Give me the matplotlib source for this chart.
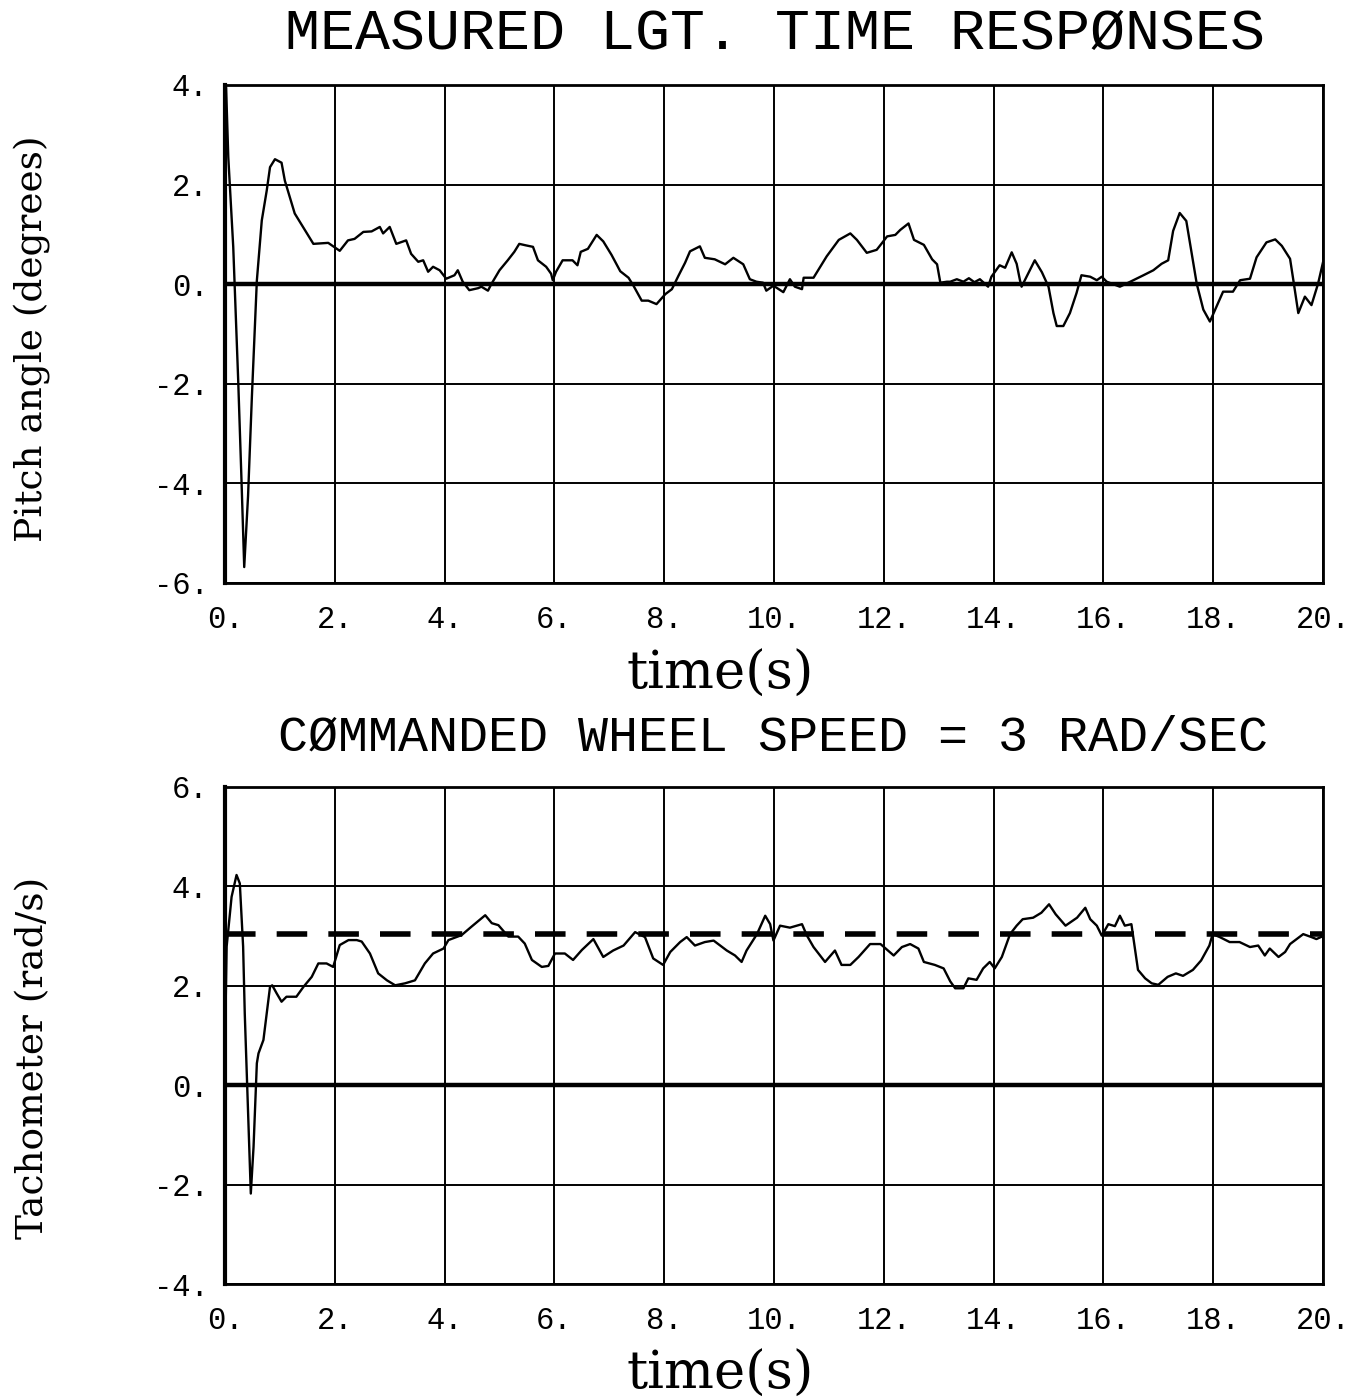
import matplotlib
matplotlib.use("Agg")
import matplotlib.pyplot as plt

# ---------------- data ----------------
pitch_t = [0.0, 0.02, 0.06, 0.15, 0.24, 0.30, 0.35, 0.42, 0.49, 0.58, 0.67, 0.76, 0.82, 0.91, 1.03,
           1.09, 1.27, 1.42, 1.61, 1.88, 2.09, 2.24, 2.36, 2.52, 2.67, 2.82, 2.88, 3.00, 3.12, 3.30,
           3.39, 3.52, 3.61, 3.70, 3.79, 3.91, 4.03, 4.18, 4.24, 4.33, 4.45, 4.61, 4.67, 4.79, 4.85,
           5.00, 5.15, 5.27, 5.36, 5.48, 5.61, 5.70, 5.85, 5.94, 5.97, 6.03, 6.15, 6.33, 6.42, 6.48,
           6.61, 6.77, 6.89, 7.04, 7.20, 7.35, 7.44, 7.59, 7.71, 7.86, 8.02, 8.14, 8.26, 8.38, 8.47,
           8.65, 8.74, 8.92, 9.11, 9.26, 9.44, 9.56, 9.68, 9.80, 9.86, 9.99, 10.17, 10.29, 10.38, 10.51,
           10.54, 10.72, 10.96, 11.18, 11.39, 11.51, 11.69, 11.87, 11.97, 12.06, 12.21, 12.30, 12.45,
           12.55, 12.73, 12.88, 12.97, 13.03, 13.15, 13.21, 13.33, 13.45, 13.55, 13.65, 13.75, 13.90,
           13.96, 14.11, 14.21, 14.33, 14.42, 14.48, 14.51, 14.60, 14.75, 14.88, 15.00, 15.09, 15.15,
           15.27, 15.39, 15.51, 15.60, 15.76, 15.88, 15.97, 16.06, 16.30, 16.49, 16.73, 16.91, 17.06,
           17.18, 17.27, 17.39, 17.51, 17.64, 17.70, 17.82, 17.94, 18.06, 18.18, 18.36, 18.49, 18.67,
           18.79, 18.97, 19.13, 19.25, 19.40, 19.46, 19.55, 19.67, 19.79, 19.91, 20.0]
pitch_v = [0.0, 3.95, 2.55, 0.75, -1.92, -3.92, -5.68, -4.25, -2.25, 0.07, 1.28, 1.88, 2.35, 2.51, 2.44,
           2.08, 1.42, 1.15, 0.81, 0.83, 0.67, 0.88, 0.91, 1.05, 1.06, 1.15, 1.02, 1.15, 0.81, 0.88,
           0.61, 0.45, 0.48, 0.25, 0.35, 0.28, 0.11, 0.18, 0.28, 0.05, -0.12, -0.08, -0.05, -0.13, 0.0,
           0.28, 0.48, 0.65, 0.81, 0.78, 0.75, 0.48, 0.35, 0.21, 0.08, 0.25, 0.48, 0.48, 0.38, 0.65,
           0.71, 0.99, 0.86, 0.59, 0.26, 0.13, -0.03, -0.33, -0.33, -0.40, -0.20, -0.10, 0.17, 0.43, 0.66,
           0.76, 0.53, 0.50, 0.40, 0.53, 0.40, 0.10, 0.05, 0.03, -0.13, -0.03, -0.16, 0.10, -0.05, -0.10,
           0.13, 0.13, 0.56, 0.89, 1.02, 0.89, 0.63, 0.69, 0.83, 0.96, 0.99, 1.09, 1.22,
           0.89, 0.79, 0.50, 0.40, 0.03, 0.05, 0.05, 0.10, 0.05, 0.12, 0.04, 0.10, -0.05,
           0.15, 0.38, 0.33, 0.64, 0.41, 0.08, -0.05, 0.15, 0.48, 0.24, -0.05, -0.58, -0.84,
           -0.84, -0.58, -0.18, 0.18, 0.15, 0.08, 0.15, 0.05, -0.05, 0.05, 0.18, 0.28, 0.41,
           0.48, 1.07, 1.43, 1.27, 0.41, 0.01, -0.51, -0.75, -0.45, -0.15, -0.15, 0.08, 0.11,
           0.54, 0.84, 0.90, 0.77, 0.51, 0.08, -0.58, -0.25, -0.42, 0.01, 0.44]

tach_t = [0.0, 0.03, 0.12, 0.21, 0.27, 0.33, 0.36, 0.42, 0.46, 0.47, 0.52, 0.58, 0.61, 0.70, 0.76,
          0.82, 0.86, 0.94, 1.03, 1.12, 1.30, 1.43, 1.58, 1.70, 1.85, 1.97, 2.09, 2.25, 2.40, 2.49,
          2.64, 2.79, 2.95, 3.10, 3.28, 3.46, 3.64, 3.79, 3.98, 4.07, 4.31, 4.49, 4.74, 4.86, 4.98,
          5.16, 5.34, 5.46, 5.59, 5.77, 5.89, 6.01, 6.19, 6.34, 6.50, 6.71, 6.89, 7.07, 7.26, 7.47,
          7.65, 7.80, 7.98, 8.11, 8.29, 8.41, 8.56, 8.74, 8.90, 9.02, 9.14, 9.29, 9.41, 9.50, 9.69,
          9.84, 9.93, 9.99, 10.11, 10.29, 10.51, 10.60, 10.72, 10.93, 11.11, 11.23, 11.39, 11.54, 11.75,
          11.94, 12.18, 12.33, 12.48, 12.63, 12.73, 12.93, 13.09, 13.21, 13.30, 13.45, 13.54, 13.69,
          13.81, 13.93, 14.02, 14.15, 14.30, 14.42, 14.53, 14.72, 14.87, 15.01, 15.13, 15.31, 15.52,
          15.67, 15.76, 15.88, 15.97, 16.09, 16.21, 16.30, 16.39, 16.51, 16.57, 16.63, 16.76, 16.88,
          17.00, 17.17, 17.32, 17.45, 17.63, 17.78, 17.93, 17.99, 18.12, 18.30, 18.48, 18.67, 18.82,
          18.94, 19.03, 19.19, 19.31, 19.40, 19.52, 19.64, 19.79, 19.88, 20.0]
tach_v = [0.8, 2.79, 3.79, 4.23, 4.06, 2.79, 1.44, -0.57, -1.85, -2.18, -1.24, 0.44, 0.64, 0.91, 1.44,
          1.98, 2.01, 1.85, 1.68, 1.78, 1.78, 1.98, 2.18, 2.45, 2.45, 2.38, 2.82, 2.92, 2.92, 2.89,
          2.65, 2.25, 2.11, 2.01, 2.05, 2.11, 2.45, 2.65, 2.75, 2.92, 3.02, 3.19, 3.42, 3.26, 3.22,
          2.99, 2.99, 2.85, 2.52, 2.38, 2.40, 2.65, 2.65, 2.52, 2.72, 2.94, 2.58, 2.71, 2.81, 3.08,
          2.98, 2.55, 2.42, 2.68, 2.88, 2.98, 2.81, 2.88, 2.91, 2.81, 2.71, 2.61, 2.48, 2.71, 3.04,
          3.41, 3.24, 2.91, 3.21, 3.17, 3.24, 3.01, 2.78, 2.48, 2.71, 2.42, 2.42, 2.58, 2.84,
          2.84, 2.61, 2.78, 2.84, 2.75, 2.48, 2.42, 2.35, 2.09, 1.95, 1.95, 2.15, 2.12,
          2.35, 2.48, 2.35, 2.58, 3.04, 3.21, 3.34, 3.37, 3.47, 3.64, 3.44, 3.21, 3.37,
          3.57, 3.34, 3.21, 3.01, 3.24, 3.20, 3.41, 3.21, 3.24, 2.78, 2.32, 2.15, 2.05,
          2.02, 2.18, 2.25, 2.20, 2.32, 2.51, 2.81, 3.04, 2.98, 2.88, 2.88, 2.78, 2.81,
          2.61, 2.75, 2.58, 2.68, 2.84, 2.94, 3.04, 2.98, 2.94, 3.00]

commanded_speed = 3.05
x_ticks = [0, 2, 4, 6, 8, 10, 12, 14, 16, 18, 20]
pitch_yticks = [-6, -4, -2, 0, 2, 4]
tach_yticks = [-4, -2, 0, 2, 4, 6]
title_top = "MEASURED LGT. TIME RESPØNSES"
title_bottom = "CØMMANDED WHEEL SPEED = 3 RAD/SEC"

# ---------------- figure ----------------
fig = plt.figure(figsize=(13.6, 13.98), dpi=100)
ax1 = fig.add_axes([225 / 1360, 1 - 583 / 1398, 1098 / 1360, 498 / 1398])
ax2 = fig.add_axes([225 / 1360, 1 - 1284 / 1398, 1098 / 1360, 497 / 1398])

mono = "Liberation Mono"
tick_font = dict(family=mono, size=22)


def style(ax, yticks):
    ax.set_xlim(0, 20)
    ax.set_ylim(yticks[0], yticks[-1])
    ax.set_xticks(x_ticks)
    ax.set_xticklabels([f"{v}." for v in x_ticks], **tick_font)
    ax.set_yticks(yticks)
    ax.set_yticklabels([f"{v}." for v in yticks], **tick_font)
    ax.tick_params(axis="x", length=0, pad=16)
    ax.tick_params(axis="y", length=0, pad=12)
    ax.grid(True, color="black", linewidth=1.4)
    ax.set_axisbelow(True)
    for s in ax.spines.values():
        s.set_linewidth(2.0)
    ax.spines["left"].set_linewidth(3.0)
    ax.axhline(0, color="black", linewidth=3.2, zorder=2)


style(ax1, pitch_yticks)
ax1.plot(pitch_t, pitch_v, color="black", linewidth=1.7, zorder=3)
ax1.set_ylabel("Pitch angle (degrees)", family="DejaVu Serif", fontsize=27, va="center")
ax1.yaxis.set_label_coords(-0.175, 0.49)
ax1.set_xlabel("time(s)", family="DejaVu Serif", fontsize=38)
ax1.xaxis.set_label_coords((720 - 225) / 1098, -(674 - 583) / 498)
ax1.xaxis.label.set_va("center")

style(ax2, tach_yticks)
ax2.axhline(commanded_speed, color="black", linewidth=4.0, dashes=(5.5, 3.8), zorder=2)
ax2.plot(tach_t, tach_v, color="black", linewidth=1.7, zorder=3)
ax2.set_ylabel("Tachometer (rad/s)", family="DejaVu Serif", fontsize=27, va="center")
ax2.yaxis.set_label_coords(-0.175, 0.455)
ax2.set_xlabel("time(s)", family="DejaVu Serif", fontsize=38)
ax2.xaxis.set_label_coords((720 - 225) / 1098, -(1374 - 1284) / 497)
ax2.xaxis.label.set_va("center")

fig.text(775 / 1360, 1 - 34 / 1398, title_top, ha="center", va="center",
         family=mono, fontsize=42)
fig.text(773 / 1360, 1 - 738 / 1398, title_bottom, ha="center", va="center",
         family=mono, fontsize=36)

fig.savefig("out.png", dpi=100, facecolor="white")
